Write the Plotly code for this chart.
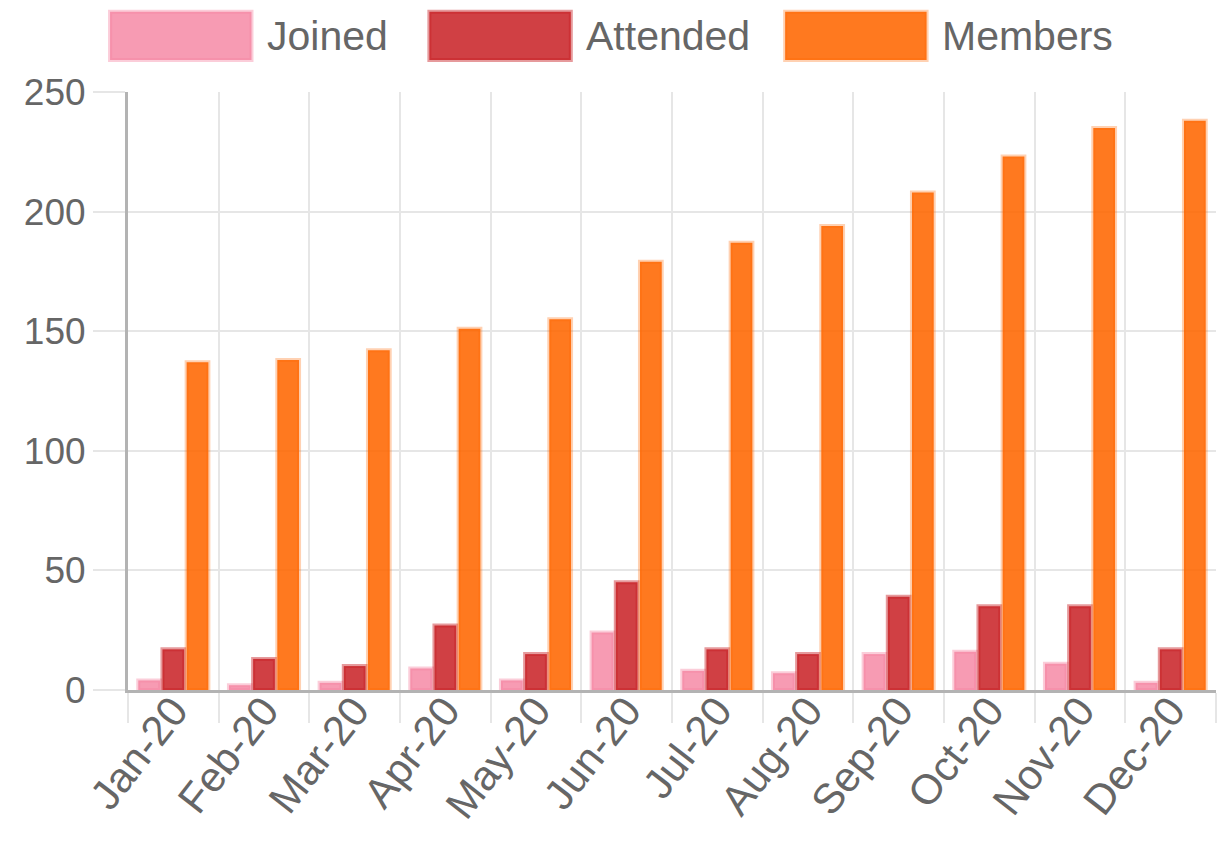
import plotly.graph_objects as go

months = ["Jan-20", "Feb-20", "Mar-20", "Apr-20", "May-20", "Jun-20",
          "Jul-20", "Aug-20", "Sep-20", "Oct-20", "Nov-20", "Dec-20"]
joined = [4, 2, 3, 9, 4, 24, 8, 7, 15, 16, 11, 3]
attended = [17, 13, 10, 27, 15, 45, 17, 15, 39, 35, 35, 17]
members = [137, 138, 142, 151, 155, 179, 187, 194, 208, 223, 235, 238]

series_names = ["Joined", "Attended", "Members"]
series_values = [joined, attended, members]
fill_colors = ["rgba(245,130,160,0.8)", "rgba(200,30,35,0.85)", "rgba(255,102,0,0.88)"]
line_colors = ["rgba(245,130,160,0.4)", "rgba(200,30,35,0.45)", "rgba(255,102,0,0.3)"]

FONT = "Liberation Sans, Arial, sans-serif"
TXT = "#666666"
GRID = "#e6e6e6"
AXIS = "#b3b3b3"

fig = go.Figure()
for name, vals, fc, lc in zip(series_names, series_values, fill_colors, line_colors):
    fig.add_trace(go.Bar(
        x=months, y=vals, name=name,
        marker=dict(color=fc, line=dict(color=lc, width=4)),
        showlegend=False,
    ))

# custom wide-box legend (Chart.js style), placed in paper coordinates above plot
legend_box_x = [-0.0165, 0.277, 0.604]
box_w = 0.130
box_y0, box_y1 = 1.0535, 1.134
shapes = []
annotations = []
for name, fc, lc, bx in zip(series_names, fill_colors, line_colors, legend_box_x):
    shapes.append(dict(type="rect", xref="paper", yref="paper",
                       x0=bx, x1=bx + box_w, y0=box_y0, y1=box_y1,
                       fillcolor=fc, line=dict(color=lc, width=4), layer="above"))
    annotations.append(dict(xref="paper", yref="paper", x=bx + box_w + 0.012,
                            y=(box_y0 + box_y1) / 2, text=name, showarrow=False,
                            xanchor="left", yanchor="middle",
                            font=dict(family=FONT, size=41, color=TXT)))

fig.update_layout(
    width=1214, height=826,
    margin=dict(l=120, r=6, t=84, b=144),
    paper_bgcolor="white", plot_bgcolor="white",
    barmode="group", bargap=0.2, bargroupgap=0.1,
    font=dict(family=FONT, color=TXT),
    shapes=shapes, annotations=annotations,
    xaxis=dict(
        type="category", tickson="boundaries",
        showgrid=True, gridcolor=GRID, gridwidth=2,
        ticks="outside", ticklen=30, tickcolor=GRID, tickwidth=2,
        showline=True, linecolor=AXIS, linewidth=3,
        tickangle=-52, tickfont=dict(family=FONT, size=42, color=TXT),
        ticklabelstandoff=-24,
    ),
    yaxis=dict(
        range=[0, 250], dtick=50, tick0=0,
        showgrid=True, gridcolor=GRID, gridwidth=2,
        ticks="outside", ticklen=32, tickcolor=GRID, tickwidth=2,
        showline=True, linecolor=AXIS, linewidth=3,
        zeroline=False,
        tickfont=dict(family=FONT, size=37, color=TXT),
    ),
)

fig.write_html("out.html")
